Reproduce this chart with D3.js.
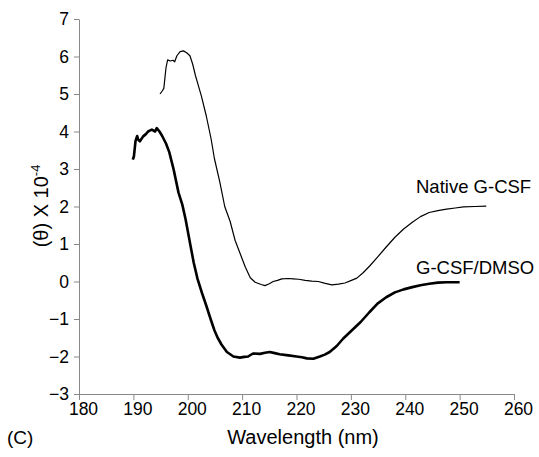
<!DOCTYPE html>
<html>
<head>
<meta charset="utf-8">
<script src="https://cdn.jsdelivr.net/npm/d3@7"></script>
<style>
  body { margin: 0; background: #fff; }
  svg text { font-family: "Liberation Sans", Arial, sans-serif; fill: #000; }
  .axis path, .axis line { stroke: #888; }
</style>
</head>
<body>
<div id="chart"></div>
<script>
// wavelength (nm) and ellipticity (x 10^-4)
const nativeWl = [194.9, 195.3, 195.6, 196.0, 196.3, 196.8, 197.3, 197.6, 198.0, 198.6, 199.2, 199.8, 200.4, 200.9, 201.4, 201.9, 202.5, 203.4, 204.3, 204.9, 205.9, 206.8, 207.8, 208.7, 209.7, 210.6, 211.5, 212.4, 213.5, 214.2, 215.0, 215.7, 216.5, 217.3, 218.5, 219.4, 220.4, 221.6, 222.8, 224.0, 225.3, 226.5, 227.7, 228.9, 230.1, 231.1, 232.3, 233.5, 234.9, 236.5, 238.1, 239.7, 241.3, 242.8, 244.4, 246.0, 247.6, 249.2, 250.7, 252.8, 254.9];
const nativeTheta = [5.00, 5.08, 5.15, 5.70, 5.91, 5.88, 5.90, 5.86, 6.02, 6.13, 6.15, 6.10, 6.02, 5.80, 5.50, 5.25, 4.95, 4.42, 3.80, 3.28, 2.65, 2.00, 1.60, 1.10, 0.72, 0.38, 0.10, -0.02, -0.08, -0.11, -0.06, 0.00, 0.03, 0.07, 0.08, 0.07, 0.06, 0.03, 0.01, 0.00, -0.05, -0.09, -0.07, -0.04, 0.03, 0.09, 0.24, 0.42, 0.65, 0.92, 1.18, 1.40, 1.58, 1.73, 1.84, 1.89, 1.93, 1.96, 1.99, 2.00, 2.01];

const dmsoWl = [189.9, 190.1, 190.4, 190.7, 190.9, 191.2, 191.8, 192.3, 192.7, 193.1, 193.4, 194.0, 194.3, 194.8, 195.3, 196.0, 196.6, 197.4, 198.3, 199.0, 199.6, 200.5, 201.1, 201.8, 202.6, 203.4, 204.2, 204.9, 205.5, 206.2, 207.2, 208.4, 209.6, 210.4, 211.1, 212.0, 213.3, 214.2, 215.1, 216.0, 216.9, 218.5, 220.0, 221.0, 221.9, 223.1, 224.3, 225.2, 226.1, 227.4, 228.6, 230.2, 231.8, 233.4, 234.9, 236.5, 238.1, 239.7, 241.3, 242.8, 244.4, 246.0, 247.6, 250.0];
const dmsoTheta = [3.25, 3.34, 3.75, 3.88, 3.78, 3.74, 3.87, 3.93, 4.00, 4.03, 4.05, 4.00, 4.09, 4.00, 3.88, 3.68, 3.45, 2.99, 2.37, 2.05, 1.66, 0.96, 0.50, 0.07, -0.30, -0.64, -1.00, -1.30, -1.50, -1.68, -1.88, -2.00, -2.03, -2.01, -2.00, -1.92, -1.93, -1.90, -1.88, -1.91, -1.94, -1.97, -2.00, -2.02, -2.05, -2.06, -2.00, -1.95, -1.88, -1.72, -1.52, -1.30, -1.08, -0.82, -0.59, -0.42, -0.29, -0.21, -0.15, -0.10, -0.06, -0.03, -0.02, -0.02];

const xTicks = [180, 190, 200, 210, 220, 230, 240, 250, 260];
const yTicks = [-3, -2, -1, 0, 1, 2, 3, 4, 5, 6, 7];

const seriesNames = ["Native G-CSF", "G-CSF/DMSO"];

// margin, width, height
const margin = {top: 19, right: 25, bottom: 63, left: 79};
const width = 539 - margin.left - margin.right;
const height = 457 - margin.top - margin.bottom;

const svg = d3.select("#chart").append("svg")
    .attr("width", 539)
    .attr("height", 457);

const g = svg.append("g")
    .attr("transform", `translate(${margin.left}, ${margin.top})`);

// scales
const x = d3.scaleLinear().domain([180, 260]).range([0, width]);
const y = d3.scaleLinear().domain([-3, 7]).range([height, 0]);

// axes
g.append("g")
    .attr("class", "axis x-axis")
    .attr("transform", `translate(0, ${height})`)
    .call(d3.axisBottom(x).tickValues(xTicks).tickSize(6).tickSizeOuter(0).tickPadding(3))
    .selectAll("text")
    .attr("dx", 4)
    .style("font-size", "17.5px");

g.append("g")
    .attr("class", "axis y-axis")
    .call(d3.axisLeft(y).tickValues(yTicks).tickSize(5).tickSizeOuter(0).tickPadding(5))
    .selectAll("text")
    .style("font-size", "17.5px");

g.selectAll(".axis .domain").attr("stroke", "#888");
g.selectAll(".axis text").attr("fill", "#000");

// lines
const line = d3.line()
    .x(d => x(d[0]))
    .y(d => y(d[1]));

const nativeData = nativeWl.map((w, i) => [w, nativeTheta[i]]);
const dmsoData = dmsoWl.map((w, i) => [w, dmsoTheta[i]]);

g.append("path")
    .datum(nativeData)
    .attr("fill", "none")
    .attr("stroke", "#000")
    .attr("stroke-width", 1.2)
    .attr("stroke-linejoin", "round")
    .attr("d", line);

g.append("path")
    .datum(dmsoData)
    .attr("fill", "none")
    .attr("stroke", "#000")
    .attr("stroke-width", 2.6)
    .attr("stroke-linejoin", "round")
    .attr("d", line);

// series labels
svg.append("text")
    .attr("x", 416)
    .attr("y", 193)
    .style("font-size", "18.5px")
    .text(seriesNames[0]);

svg.append("text")
    .attr("x", 416)
    .attr("y", 274)
    .style("font-size", "18.5px")
    .text(seriesNames[1]);

// axis titles
svg.append("text")
    .attr("x", 303)
    .attr("y", 444)
    .attr("text-anchor", "middle")
    .style("font-size", "20px")
    .text("Wavelength (nm)");

svg.append("text")
    .attr("x", 7)
    .attr("y", 444)
    .style("font-size", "19px")
    .text("(C)");

const yTitle = svg.append("text")
    .attr("transform", "translate(48, 206) rotate(-90)")
    .attr("text-anchor", "middle")
    .style("font-size", "20px");
yTitle.append("tspan").text("(θ) X 10");
yTitle.append("tspan")
    .attr("dy", -8)
    .style("font-size", "13px")
    .text("-4");
</script>
</body>
</html>
